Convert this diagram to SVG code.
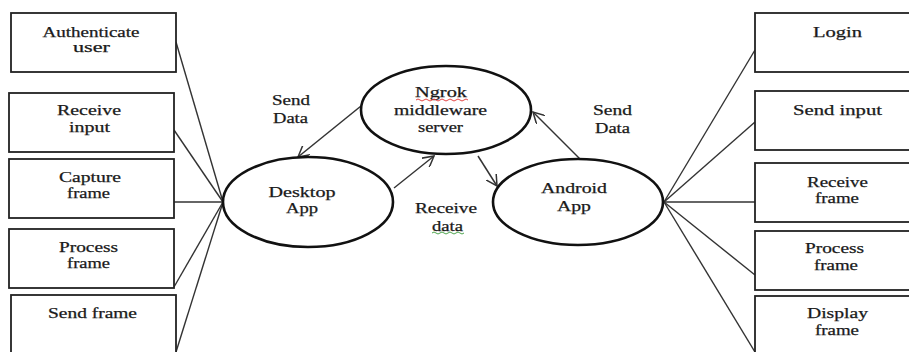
<svg xmlns="http://www.w3.org/2000/svg" width="909" height="352" viewBox="0 0 909 352" font-family="'Liberation Serif', 'Times New Roman', serif">
<defs>
<style>
.box{fill:#fff;stroke:#222;stroke-width:1.8}
.ell{fill:#fff;stroke:#111;stroke-width:2.6}
.ln{stroke:#333;stroke-width:1.4;fill:none}
.ar{stroke:#333;stroke-width:1.5;fill:none}
text{font-size:14px;fill:#1a1a1a;stroke:#1a1a1a;stroke-width:0.25;text-anchor:middle}
</style>
<marker id="open" viewBox="0 0 12 12" refX="11" refY="6" markerWidth="12" markerHeight="12" markerUnits="userSpaceOnUse" orient="auto">
<path d="M0,0 L11,6 L0,12" fill="none" stroke="#333" stroke-width="1.5"/>
</marker>
</defs>
<rect width="909" height="352" fill="#fff"/>
<g id="connectors">
<line class="ln" x1="176" y1="42" x2="223" y2="202"/>
<line class="ln" x1="174" y1="130" x2="223" y2="202"/>
<line class="ln" x1="174" y1="202" x2="223" y2="202"/>
<line class="ln" x1="174" y1="287" x2="223" y2="202"/>
<line class="ln" x1="176" y1="352" x2="223" y2="202"/>
<line class="ln" x1="755" y1="50" x2="664" y2="202"/>
<line class="ln" x1="755" y1="122" x2="664" y2="202"/>
<line class="ln" x1="755" y1="202" x2="664" y2="202"/>
<line class="ln" x1="755" y1="275" x2="664" y2="202"/>
<line class="ln" x1="755" y1="352" x2="664" y2="202"/>
<line class="ar" x1="361" y1="106" x2="298" y2="157" marker-end="url(#open)"/>
<line class="ar" x1="394" y1="188" x2="434" y2="156" marker-end="url(#open)"/>
<line class="ar" x1="478" y1="156" x2="497" y2="186" marker-end="url(#open)"/>
<line class="ar" x1="580" y1="159" x2="533" y2="112" marker-end="url(#open)"/>
</g>
<g id="authenticate">
<rect class="box" x="11" y="13" width="165" height="59"/>
<text x="91" y="37" textLength="97" lengthAdjust="spacingAndGlyphs">Authenticate</text>
<text x="91.5" y="52" textLength="37" lengthAdjust="spacingAndGlyphs">user</text>
</g>
<g id="receive-input">
<rect class="box" x="9" y="93" width="165" height="59"/>
<text x="89" y="115" textLength="64" lengthAdjust="spacingAndGlyphs">Receive</text>
<text x="89.5" y="132" textLength="41" lengthAdjust="spacingAndGlyphs">input</text>
</g>
<g id="capture-frame">
<rect class="box" x="9" y="159" width="165" height="59"/>
<text x="90" y="182" textLength="62" lengthAdjust="spacingAndGlyphs">Capture</text>
<text x="88.5" y="198" textLength="43" lengthAdjust="spacingAndGlyphs">frame</text>
</g>
<g id="process-frame-left">
<rect class="box" x="9" y="229" width="165" height="59"/>
<text x="88.5" y="252" textLength="59" lengthAdjust="spacingAndGlyphs">Process</text>
<text x="88.5" y="268" textLength="43" lengthAdjust="spacingAndGlyphs">frame</text>
</g>
<g id="send-frame">
<rect class="box" x="11" y="295" width="165" height="70"/>
<text x="92.5" y="318" textLength="89" lengthAdjust="spacingAndGlyphs">Send frame</text>
</g>
<g id="login">
<rect class="box" x="755" y="13" width="165" height="59"/>
<text x="837.5" y="37" textLength="49" lengthAdjust="spacingAndGlyphs">Login</text>
</g>
<g id="send-input">
<rect class="box" x="755" y="91" width="165" height="59"/>
<text x="837.5" y="115" textLength="89" lengthAdjust="spacingAndGlyphs">Send input</text>
</g>
<g id="receive-frame">
<rect class="box" x="755" y="163" width="165" height="59"/>
<text x="837.5" y="187" textLength="61" lengthAdjust="spacingAndGlyphs">Receive</text>
<text x="837" y="203" textLength="44" lengthAdjust="spacingAndGlyphs">frame</text>
</g>
<g id="process-frame-right">
<rect class="box" x="755" y="231" width="165" height="59"/>
<text x="834.5" y="253" textLength="59" lengthAdjust="spacingAndGlyphs">Process</text>
<text x="836" y="270" textLength="44" lengthAdjust="spacingAndGlyphs">frame</text>
</g>
<g id="display-frame">
<rect class="box" x="755" y="296" width="165" height="70"/>
<text x="837.5" y="318" textLength="61" lengthAdjust="spacingAndGlyphs">Display</text>
<text x="837" y="335" textLength="44" lengthAdjust="spacingAndGlyphs">frame</text>
</g>
<g id="ngrok">
<ellipse class="ell" cx="446" cy="110" rx="85" ry="44"/>
<text x="441" y="97" textLength="52" lengthAdjust="spacingAndGlyphs">Ngrok</text>
<path d="M416,100 q2,-2 4,0 t4,0 t4,0 t4,0 t4,0 t4,0 t4,0 t4,0 t4,0 t4,0 t4,0 t4,0 t4,0" fill="none" stroke="#e03030" stroke-width="0.9"/>
<text x="440.5" y="115" textLength="93" lengthAdjust="spacingAndGlyphs">middleware</text>
<text x="440.5" y="132" textLength="45" lengthAdjust="spacingAndGlyphs">server</text>
</g>
<g id="desktop">
<ellipse class="ell" cx="308" cy="202" rx="85" ry="45"/>
<text x="302" y="197" textLength="67" lengthAdjust="spacingAndGlyphs">Desktop</text>
<text x="302" y="213" textLength="32" lengthAdjust="spacingAndGlyphs">App</text>
</g>
<g id="android">
<ellipse class="ell" cx="578" cy="202" rx="85" ry="43"/>
<text x="574" y="193" textLength="66" lengthAdjust="spacingAndGlyphs">Android</text>
<text x="574" y="211" textLength="34" lengthAdjust="spacingAndGlyphs">App</text>
</g>
<g id="labels">
<text x="291" y="105" textLength="38" lengthAdjust="spacingAndGlyphs">Send</text>
<text x="290.5" y="123" textLength="35" lengthAdjust="spacingAndGlyphs">Data</text>
<text x="446" y="213" textLength="62" lengthAdjust="spacingAndGlyphs">Receive</text>
<text x="447.5" y="231" textLength="31" lengthAdjust="spacingAndGlyphs">data</text>
<path d="M432,233 q2,-2 4,0 t4,0 t4,0 t4,0 t4,0 t4,0 t4,0 t4,0" fill="none" stroke="#3a9a3a" stroke-width="0.9"/>
<text x="612.5" y="115" textLength="39" lengthAdjust="spacingAndGlyphs">Send</text>
<text x="612.5" y="133" textLength="35" lengthAdjust="spacingAndGlyphs">Data</text>
</g>
</svg>
